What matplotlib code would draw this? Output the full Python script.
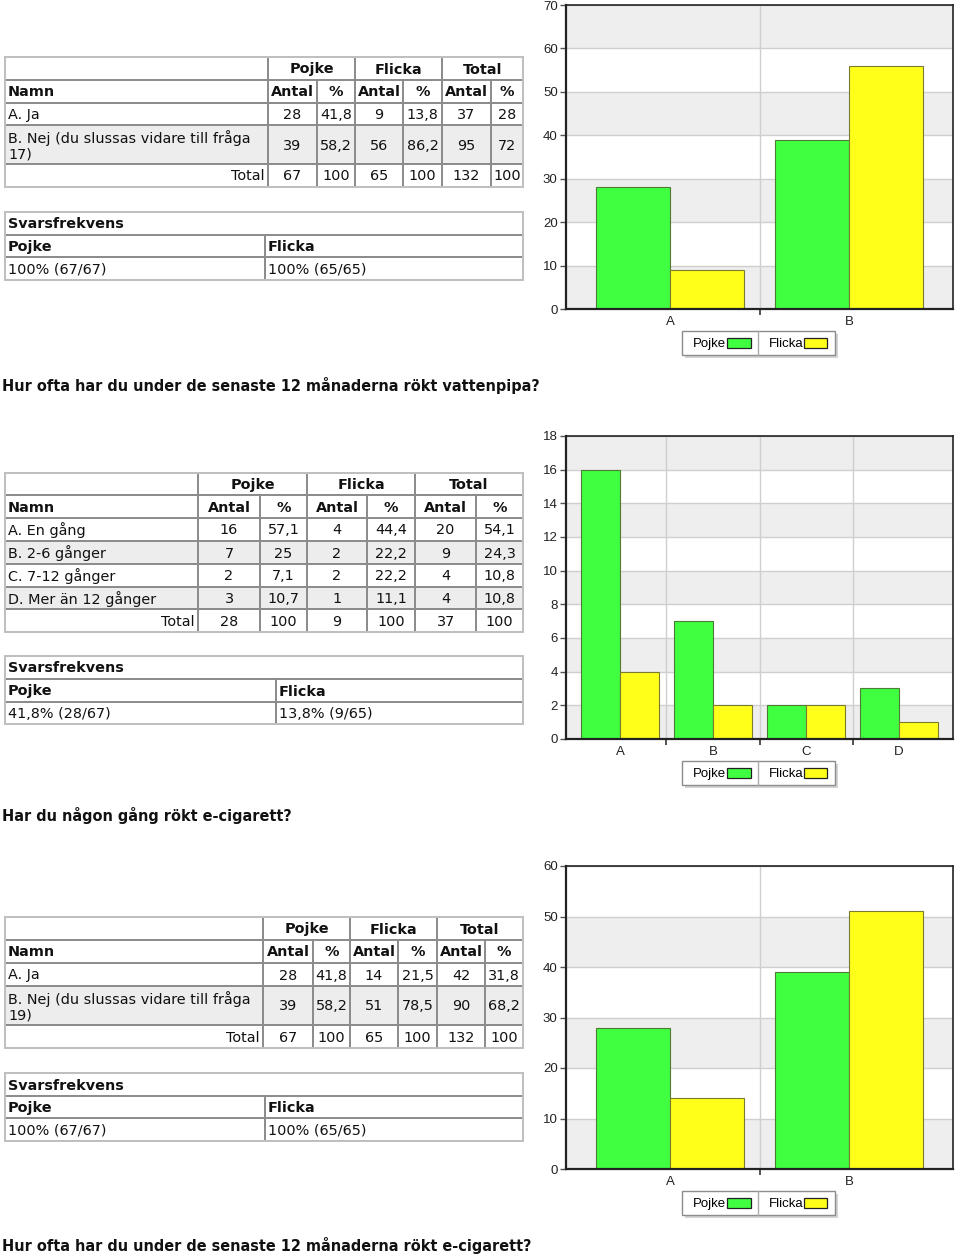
import matplotlib
matplotlib.use('Agg')
import matplotlib.pyplot as plt
from matplotlib.patches import Rectangle

W, H = 960, 1256

# ---- data: section 1 (har du rökt vattenpipa) ----
s1_names = ['A. Ja', 'B. Nej (du slussas vidare till fråga\n17)']
s1_cats = ['A', 'B']
s1_pojke = [28, 39]
s1_pojke_pct = [41.8, 58.2]
s1_flicka = [9, 56]
s1_flicka_pct = [13.8, 86.2]
s1_total = [37, 95]
s1_total_pct = [28, 72]
s1_sums = [67, 100, 65, 100, 132, 100]
s1_svar = ['100% (67/67)', '100% (65/65)']

# ---- data: section 2 (hur ofta vattenpipa) ----
s2_names = ['A. En gång', 'B. 2-6 gånger', 'C. 7-12 gånger', 'D. Mer än 12 gånger']
s2_cats = ['A', 'B', 'C', 'D']
s2_pojke = [16, 7, 2, 3]
s2_pojke_pct = [57.1, 25, 7.1, 10.7]
s2_flicka = [4, 2, 2, 1]
s2_flicka_pct = [44.4, 22.2, 22.2, 11.1]
s2_total = [20, 9, 4, 4]
s2_total_pct = [54.1, 24.3, 10.8, 10.8]
s2_sums = [28, 100, 9, 100, 37, 100]
s2_svar = ['41,8% (28/67)', '13,8% (9/65)']

# ---- data: section 3 (e-cigarett) ----
s3_names = ['A. Ja', 'B. Nej (du slussas vidare till fråga\n19)']
s3_cats = ['A', 'B']
s3_pojke = [28, 39]
s3_pojke_pct = [41.8, 58.2]
s3_flicka = [14, 51]
s3_flicka_pct = [21.5, 78.5]
s3_total = [42, 90]
s3_total_pct = [31.8, 68.2]
s3_sums = [67, 100, 65, 100, 132, 100]
s3_svar = ['100% (67/67)', '100% (65/65)']

titles = ['Hur ofta har du under de senaste 12 månaderna rökt vattenpipa?',
          'Har du någon gång rökt e-cigarett?',
          'Hur ofta har du under de senaste 12 månaderna rökt e-cigarett?']

GREEN = '#40ff40'
YELLOW = '#ffff1a'
FONT = 'DejaVu Sans'
FS = 10.4
LINE = '#8c8c8c'
SHADE = '#ededed'


def fmt(v):
    return f'{v:g}'.replace('.', ',')


fig = plt.figure(figsize=(W / 100, H / 100), dpi=100)
bg = fig.add_axes([0, 0, 1, 1])
bg.set_xlim(0, W)
bg.set_ylim(H, 0)
bg.axis('off')


def cell(x0, y0, x1, y1, fill=None):
    if fill:
        bg.add_patch(Rectangle((x0, y0), x1 - x0, y1 - y0, facecolor=fill,
                               edgecolor='none', zorder=1))
    bg.add_patch(Rectangle((x0, y0), x1 - x0, y1 - y0, facecolor='none',
                           edgecolor=LINE, lw=1.3, zorder=2))


def txt(x, y, s, ha='left', bold=False, size=FS):
    bg.text(x, y, s, ha=ha, va='center', fontsize=size, family=FONT,
            fontweight='bold' if bold else 'normal', color='#111111',
            zorder=3, linespacing=1.1)


def draw_table(cols, rows, names, pn, pp, fn, fp, tn, tp, sums):
    c = cols
    # header row 1
    y0, y1 = rows[0], rows[1]
    cell(c[0], y0, c[1], y1)
    for i, lab in enumerate(['Pojke', 'Flicka', 'Total']):
        a, b = c[1 + 2 * i], c[3 + 2 * i]
        cell(a, y0, b, y1)
        txt((a + b) / 2, (y0 + y1) / 2 + 1, lab, ha='center', bold=True)
    # header row 2
    y0, y1 = rows[1], rows[2]
    cell(c[0], y0, c[1], y1)
    txt(c[0] + 3, (y0 + y1) / 2 + 1, 'Namn', bold=True)
    for j in range(6):
        cell(c[1 + j], y0, c[2 + j], y1)
        txt((c[1 + j] + c[2 + j]) / 2, (y0 + y1) / 2 + 1,
            'Antal' if j % 2 == 0 else '%', ha='center', bold=True)
    # data rows
    for r, name in enumerate(names):
        y0, y1 = rows[2 + r], rows[3 + r]
        fill = SHADE if r % 2 == 1 else None
        cell(c[0], y0, c[1], y1, fill)
        txt(c[0] + 3, (y0 + y1) / 2 + 1, name)
        vals = [pn[r], fmt(pp[r]), fn[r], fmt(fp[r]), tn[r], fmt(tp[r])]
        for j, v in enumerate(vals):
            cell(c[1 + j], y0, c[2 + j], y1, fill)
            txt((c[1 + j] + c[2 + j]) / 2, (y0 + y1) / 2 + 1, str(v), ha='center')
    # total row
    y0, y1 = rows[-2], rows[-1]
    cell(c[0], y0, c[1], y1)
    txt(c[1] - 3, (y0 + y1) / 2 + 1, 'Total', ha='right')
    for j, v in enumerate(sums):
        cell(c[1 + j], y0, c[2 + j], y1)
        txt((c[1 + j] + c[2 + j]) / 2, (y0 + y1) / 2 + 1, str(v), ha='center')
    bg.add_patch(Rectangle((c[0], rows[0]), c[-1] - c[0], rows[-1] - rows[0],
                           facecolor='none', edgecolor='#c4c4c4', lw=1.3, zorder=2))


def draw_svar(x0, x1, split, rows, svar):
    cell(x0, rows[0], x1, rows[1])
    txt(x0 + 3, (rows[0] + rows[1]) / 2 + 1, 'Svarsfrekvens', bold=True)
    cell(x0, rows[1], split, rows[2])
    cell(split, rows[1], x1, rows[2])
    txt(x0 + 3, (rows[1] + rows[2]) / 2 + 1, 'Pojke', bold=True)
    txt(split + 3, (rows[1] + rows[2]) / 2 + 1, 'Flicka', bold=True)
    cell(x0, rows[2], split, rows[3])
    cell(split, rows[2], x1, rows[3])
    txt(x0 + 3, (rows[2] + rows[3]) / 2 + 1, svar[0])
    txt(split + 3, (rows[2] + rows[3]) / 2 + 1, svar[1])
    bg.add_patch(Rectangle((x0, rows[0]), x1 - x0, rows[-1] - rows[0],
                           facecolor='none', edgecolor='#c4c4c4', lw=1.3, zorder=2))


def draw_chart(x0, y0, x1, y1, cats, pojke, flicka, ymax, step):
    ax = fig.add_axes([x0 / W, 1 - y1 / H, (x1 - x0) / W, (y1 - y0) / H])
    n = len(cats)
    w = 0.415
    xs = list(range(n))
    for k in range(0, ymax, step):
        if (k // step) % 2 == 0:
            ax.axhspan(k, k + step, color='#eeeeee', zorder=0, lw=0)
    ax.set_yticks(range(0, ymax + 1, step))
    ax.grid(axis='y', color='#cfcfcf', lw=1, zorder=1)
    bounds = [i + 0.5 for i in range(n - 1)]
    for b in bounds:
        ax.axvline(b, color='#cfcfcf', lw=1, zorder=1)
    ax.bar([x - w / 2 for x in xs], pojke, w, color=GREEN, edgecolor='#4f7a34',
           lw=0.8, zorder=2)
    ax.bar([x + w / 2 for x in xs], flicka, w, color=YELLOW, edgecolor='#7a7a30',
           lw=0.8, zorder=2)
    ax.set_xlim(-0.58, n - 1 + 0.58)
    ax.set_ylim(0, ymax)
    ax.set_xticks(xs)
    ax.set_xticklabels(cats)
    ax.set_xticks(bounds, minor=True)
    ax.tick_params(axis='x', which='major', length=0, pad=5)
    ax.tick_params(axis='x', which='minor', length=4, width=1.2, color='#333333')
    ax.tick_params(axis='y', length=4, width=1, color='#555555', pad=2)
    for lab in ax.get_xticklabels() + ax.get_yticklabels():
        lab.set_family('Liberation Sans')
        lab.set_fontsize(9.5)
        lab.set_color('#222222')
    for side in ax.spines.values():
        side.set_color('#222222')
        side.set_linewidth(1.2)
    ax.spines['left'].set_linewidth(1.6)
    ax.spines['bottom'].set_linewidth(1.6)

    # legend box below the plot
    ly0 = y1 + 22
    ly1 = ly0 + 24
    lx0, lx1, ldiv = 682, 835, 758
    bg.add_patch(Rectangle((lx0 + 3, ly0 + 3), lx1 - lx0, ly1 - ly0,
                           facecolor='#d4d4d4', edgecolor='none', zorder=1))
    bg.add_patch(Rectangle((lx0, ly0), lx1 - lx0, ly1 - ly0,
                           facecolor='white', edgecolor='#8c8c8c', lw=1, zorder=2))
    bg.plot([ldiv, ldiv], [ly0, ly1], color='#aaaaaa', lw=1, zorder=3)
    ym = (ly0 + ly1) / 2
    bg.text(726, ym + 1, 'Pojke', ha='right', va='center', fontsize=9.5,
            family='Liberation Sans', zorder=3)
    bg.add_patch(Rectangle((727, ym - 5), 24, 10, facecolor=GREEN,
                           edgecolor='#222222', lw=0.9, zorder=3))
    bg.text(803, ym + 1, 'Flicka', ha='right', va='center', fontsize=9.5,
            family='Liberation Sans', zorder=3)
    bg.add_patch(Rectangle((804, ym - 5), 23, 10, facecolor=YELLOW,
                           edgecolor='#222222', lw=0.9, zorder=3))
    return ax


# section 1
draw_table([5, 268, 317, 355, 403, 442, 491, 523], [57, 80, 103, 125, 164, 187],
           s1_names, s1_pojke, s1_pojke_pct, s1_flicka, s1_flicka_pct,
           s1_total, s1_total_pct, s1_sums)
draw_svar(5, 523, 265, [212, 235, 257, 280], s1_svar)
draw_chart(566, 5, 953, 309, s1_cats, s1_pojke, s1_flicka, 70, 10)

# section 2
draw_table([5, 198, 260, 307, 367, 415, 476, 523],
           [473, 495, 518, 541, 564, 587, 609, 632],
           s2_names, s2_pojke, s2_pojke_pct, s2_flicka, s2_flicka_pct,
           s2_total, s2_total_pct, s2_sums)
draw_svar(5, 523, 276, [656, 679, 702, 724], s2_svar)
draw_chart(566, 436, 953, 739, s2_cats, s2_pojke, s2_flicka, 18, 2)

# section 3
draw_table([5, 263, 313, 350, 398, 437, 485, 523], [917, 940, 963, 986, 1025, 1048],
           s3_names, s3_pojke, s3_pojke_pct, s3_flicka, s3_flicka_pct,
           s3_total, s3_total_pct, s3_sums)
draw_svar(5, 523, 265, [1073, 1096, 1118, 1141], s3_svar)
draw_chart(566, 866, 953, 1169, s3_cats, s3_pojke, s3_flicka, 60, 10)

for ty, t in zip([386, 816, 1246], titles):
    bg.text(2, ty, t, ha='left', va='center', fontsize=10.45, family=FONT,
            fontweight='bold', color='#111111')

fig.savefig('out.png', dpi=100)
